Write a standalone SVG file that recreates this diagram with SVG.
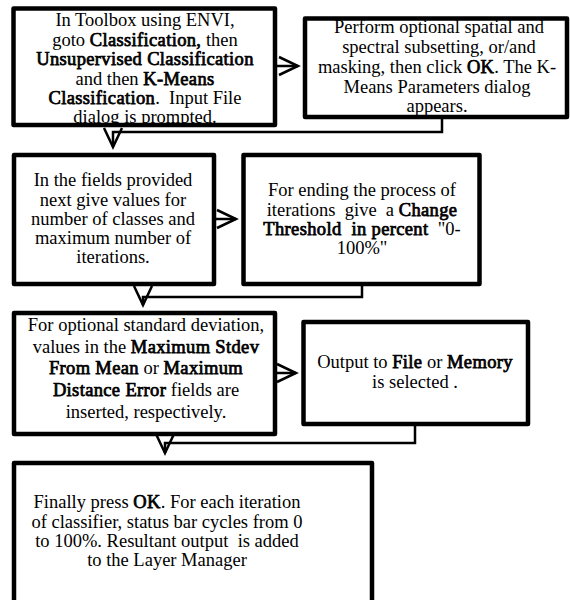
<svg xmlns="http://www.w3.org/2000/svg" width="570" height="600" viewBox="0 0 570 600">
<style>
.box{fill:#fff;stroke:#000;stroke-width:4.5;stroke-linejoin:round}
.t{font-family:"Liberation Serif","Times New Roman",serif;font-size:18.5px;fill:#000;text-anchor:middle;white-space:pre}
.b{font-weight:normal;stroke:#000;stroke-width:0.75px;letter-spacing:0.35px}
.c{fill:none;stroke:#000;stroke-width:2.5;marker-end:url(#chev)}
</style>
<defs>
<marker id="chev" markerUnits="userSpaceOnUse" viewBox="0 0 24 22" markerWidth="24" markerHeight="22" refX="21" refY="11" orient="auto">
<path d="M2,2 L21,11 L2,20" fill="none" stroke="#000" stroke-width="2.5"/>
</marker>
</defs>
<g id="connectors">
<path class="c" d="M277,66 H298"/>
<path class="c" d="M442,119 V132 H113 V147"/>
<path class="c" d="M216,219 H236"/>
<path class="c" d="M362,286 V297 H143 V305"/>
<path class="c" d="M277,373 H296"/>
<path class="c" d="M415,426 V443 H165 V453"/>
</g>
<g id="n1">
<rect class="box" x="13.5" y="8.5" width="261.5" height="116.5"/>
<text class="t" x="145" y="26">In Toolbox using ENVI,</text>
<text class="t" x="145" y="45.5">goto <tspan class="b">Classification,</tspan> then</text>
<text class="t b" x="145" y="65">Unsupervised Classification</text>
<text class="t" x="145" y="84.5">and then <tspan class="b">K-Means</tspan></text>
<text class="t" x="145" y="104"><tspan class="b">Classification</tspan>.  Input File</text>
<text class="t" x="145" y="122.5">dialog is prompted.</text>
</g>
<g id="n2">
<rect class="box" x="305" y="18.5" width="262" height="98.5"/>
<text class="t" x="439" y="33">Perform optional spatial and</text>
<text class="t" x="439" y="53">spectral subsetting, or/and</text>
<text class="t" x="437" y="73">masking, then click <tspan class="b">OK</tspan>. The K-</text>
<text class="t" x="437" y="93">Means Parameters dialog</text>
<text class="t" x="437" y="112">appears.</text>
</g>
<g id="n3">
<rect class="box" x="14" y="155" width="200" height="129"/>
<text class="t" x="113" y="186">In the fields provided</text>
<text class="t" x="113" y="205.5">next give values for</text>
<text class="t" x="113" y="224.5">number of classes and</text>
<text class="t" x="113" y="244">maximum number of</text>
<text class="t" x="113" y="263">iterations.</text>
</g>
<g id="n4">
<rect class="box" x="243.5" y="155" width="236" height="129"/>
<text class="t" x="362" y="196">For ending the process of</text>
<text class="t" x="362" y="215.5">iterations  give  a <tspan class="b">Change</tspan></text>
<text class="t" x="362" y="235"><tspan class="b">Threshold  in percent</tspan>  "0-</text>
<text class="t" x="362" y="253.5">100%"</text>
</g>
<g id="n5">
<rect class="box" x="14" y="313" width="261" height="121"/>
<text class="t" x="146" y="331">For optional standard deviation,</text>
<text class="t" x="146" y="352.5">values in the <tspan class="b">Maximum Stdev</tspan></text>
<text class="t" x="146" y="374"><tspan class="b">From Mean</tspan> or <tspan class="b">Maximum</tspan></text>
<text class="t" x="146" y="396"><tspan class="b">Distance Error</tspan> fields are</text>
<text class="t" x="146" y="417.5">inserted, respectively.</text>
</g>
<g id="n6">
<rect class="box" x="303.5" y="322" width="224.5" height="102"/>
<text class="t" x="415" y="368">Output to <tspan class="b">File</tspan> or <tspan class="b">Memory</tspan></text>
<text class="t" x="415" y="388">is selected .</text>
</g>
<g id="n7">
<rect class="box" x="14" y="463" width="358" height="150"/>
<text class="t" x="167" y="508">Finally press <tspan class="b">OK</tspan>. For each iteration</text>
<text class="t" x="167" y="527.5">of classifier, status bar cycles from 0</text>
<text class="t" x="167" y="547">to 100%. Resultant output  is added</text>
<text class="t" x="167" y="566">to the Layer Manager</text>
</g>
</svg>
